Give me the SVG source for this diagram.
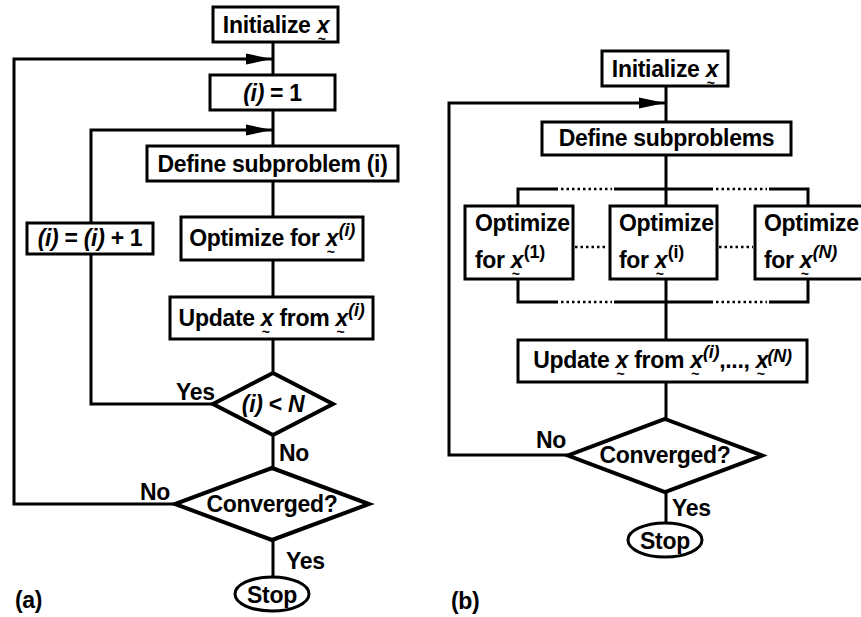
<svg xmlns="http://www.w3.org/2000/svg" width="861" height="617" viewBox="0 0 861 617">
  <style>
    .bx { fill: #fff; stroke: #000; stroke-width: 3; }
    .dm { fill: #fff; stroke: #000; stroke-width: 4; stroke-linejoin: miter; }
    .ln { fill: none; stroke: #000; stroke-width: 3; }
    .dt { fill: none; stroke: #000; stroke-width: 2.5; stroke-dasharray: 2.5 3; }
    text { font-family: "Liberation Sans", Arial, Helvetica, sans-serif; font-weight: bold; font-size: 23px; letter-spacing: -0.3px; fill: #000; }
    .c { text-anchor: middle; }
    .v { font-style: italic; }
    .sp { font-size: 18px; font-style: italic; }
    .su { font-size: 18px; }
    .tl { font-size: 14px; }
  </style>
  <defs>
    <marker id="arrow" markerUnits="userSpaceOnUse" markerWidth="26" markerHeight="12" viewBox="0 0 26 12" refX="26" refY="6" orient="auto">
      <path d="M0,0.5 L26,6 L0,11.5 z" fill="#000"/>
    </marker>
  </defs>
  <rect width="861" height="617" fill="#fff"/>

  <!-- connectors -->
  <g id="connectors">
    <!-- (a) sequential flow -->
    <path class="ln" d="M273,42 V577"/>
    <path class="ln" d="M175,504 H14 V59 H272" marker-end="url(#arrow)"/>
    <path class="ln" d="M213,404 H91 V130 H272" marker-end="url(#arrow)"/>
    <!-- (b) parallel flow -->
    <path class="ln" d="M666,86 V523"/>
    <path class="ln" d="M568,455 H449 V103 H665" marker-end="url(#arrow)"/>
    <path class="ln" d="M518,206 V189 H558 M614,189 H713 M769,189 H808 V206"/>
    <path class="dt" d="M561,189 H612 M716,189 H767"/>
    <path class="ln" d="M518,279 V302 H558 M614,302 H713 M769,302 H808 V279"/>
    <path class="dt" d="M561,302 H612 M716,302 H767"/>
    <path class="dt" d="M575,247 H608 M719,247 H753"/>
  </g>

  <!-- (a) nodes -->
  <g id="a-init">
    <rect class="bx" x="213" y="7" width="125" height="35"/>
    <text class="c" x="276" y="33">Initialize <tspan class="v">x</tspan><tspan class="tl" dx="-11.5" dy="11">~</tspan></text>
  </g>
  <g id="a-set1">
    <rect class="bx" x="210" y="75" width="125" height="35"/>
    <text class="c" x="272.5" y="101"><tspan class="v">(i)</tspan> = 1</text>
  </g>
  <g id="a-define">
    <rect class="bx" x="147" y="146" width="251" height="35"/>
    <text class="c" x="272.5" y="172">Define subproblem (i)</text>
  </g>
  <g id="a-optimize">
    <rect class="bx" x="181" y="217" width="182" height="43"/>
    <text class="c" x="272" y="246">Optimize for <tspan class="v">x</tspan><tspan class="tl" dx="-11.5" dy="11">~</tspan><tspan class="sp" dx="4" dy="-21">(i)</tspan></text>
  </g>
  <g id="a-increment">
    <rect class="bx" x="27" y="223" width="126" height="31"/>
    <text class="c" x="90" y="246"><tspan class="v">(i)</tspan> = <tspan class="v">(i)</tspan> + 1</text>
  </g>
  <g id="a-update">
    <rect class="bx" x="170" y="297" width="203" height="42"/>
    <text class="c" x="271.5" y="326">Update <tspan class="v">x</tspan><tspan class="tl" dx="-11.5" dy="11">~</tspan><tspan dx="3.6" dy="-11"> from </tspan><tspan class="v">x</tspan><tspan class="tl" dx="-11.5" dy="11">~</tspan><tspan class="sp" dx="4" dy="-21">(i)</tspan></text>
  </g>
  <g id="a-check-n">
    <polygon class="dm" points="273,373 333,404 273,435 213,404"/>
    <text class="c" x="273" y="412"><tspan class="v">(i)</tspan> &lt; <tspan class="v">N</tspan></text>
  </g>
  <g id="a-converged">
    <polygon class="dm" points="272,468 369,504 272,540 175,504"/>
    <text class="c" x="272" y="512">Converged?</text>
  </g>
  <g id="a-stop">
    <ellipse class="bx" cx="272" cy="594" rx="37" ry="17"/>
    <text class="c" x="272" y="603">Stop</text>
  </g>
  <g id="a-labels">
    <text x="176" y="400">Yes</text>
    <text x="279" y="461">No</text>
    <text x="140" y="500">No</text>
    <text x="286" y="569">Yes</text>
    <text x="15" y="608">(a)</text>
  </g>

  <!-- (b) nodes -->
  <g id="b-init">
    <rect class="bx" x="602" y="51" width="126" height="35"/>
    <text class="c" x="665" y="77">Initialize <tspan class="v">x</tspan><tspan class="tl" dx="-11.5" dy="11">~</tspan></text>
  </g>
  <g id="b-define">
    <rect class="bx" x="542" y="122" width="249" height="33"/>
    <text class="c" x="666.5" y="146">Define subproblems</text>
  </g>
  <g id="b-opt-1">
    <rect class="bx" x="465" y="206" width="108" height="73"/>
    <text x="475" y="231">Optimize</text>
    <text x="475" y="268">for <tspan class="v">x</tspan><tspan class="tl" dx="-11.5" dy="11">~</tspan><tspan class="su" dx="4" dy="-21">(1)</tspan></text>
  </g>
  <g id="b-opt-i">
    <rect class="bx" x="610" y="206" width="107" height="73"/>
    <text x="619" y="231">Optimize</text>
    <text x="619" y="268">for <tspan class="v">x</tspan><tspan class="tl" dx="-11.5" dy="11">~</tspan><tspan class="su" dx="4" dy="-21">(i)</tspan></text>
  </g>
  <g id="b-opt-n">
    <rect class="bx" x="755" y="206" width="120" height="73"/>
    <text x="764" y="231">Optimize</text>
    <text x="764" y="268">for <tspan class="v">x</tspan><tspan class="tl" dx="-11.5" dy="11">~</tspan><tspan class="sp" dx="4" dy="-21">(N)</tspan></text>
  </g>
  <g id="b-update">
    <rect class="bx" x="518" y="340" width="289" height="42"/>
    <text class="c" x="662.5" y="368">Update <tspan class="v">x</tspan><tspan class="tl" dx="-11.5" dy="11">~</tspan><tspan dx="3.6" dy="-11"> from </tspan><tspan class="v">x</tspan><tspan class="tl" dx="-11.5" dy="11">~</tspan><tspan class="sp" dx="4" dy="-21">(i)</tspan><tspan dy="10">,..., </tspan><tspan class="v">x</tspan><tspan class="tl" dx="-11.5" dy="11">~</tspan><tspan class="sp" dx="3" dy="-17">(N)</tspan></text>
  </g>
  <g id="b-converged">
    <polygon class="dm" points="665,419 762,455.5 665,492 568,455.5"/>
    <text class="c" x="665" y="463">Converged?</text>
  </g>
  <g id="b-stop">
    <ellipse class="bx" cx="665" cy="540" rx="37" ry="17"/>
    <text class="c" x="665" y="549">Stop</text>
  </g>
  <g id="b-labels">
    <text x="536" y="448">No</text>
    <text x="672" y="516">Yes</text>
    <text x="451" y="609">(b)</text>
  </g>
</svg>
